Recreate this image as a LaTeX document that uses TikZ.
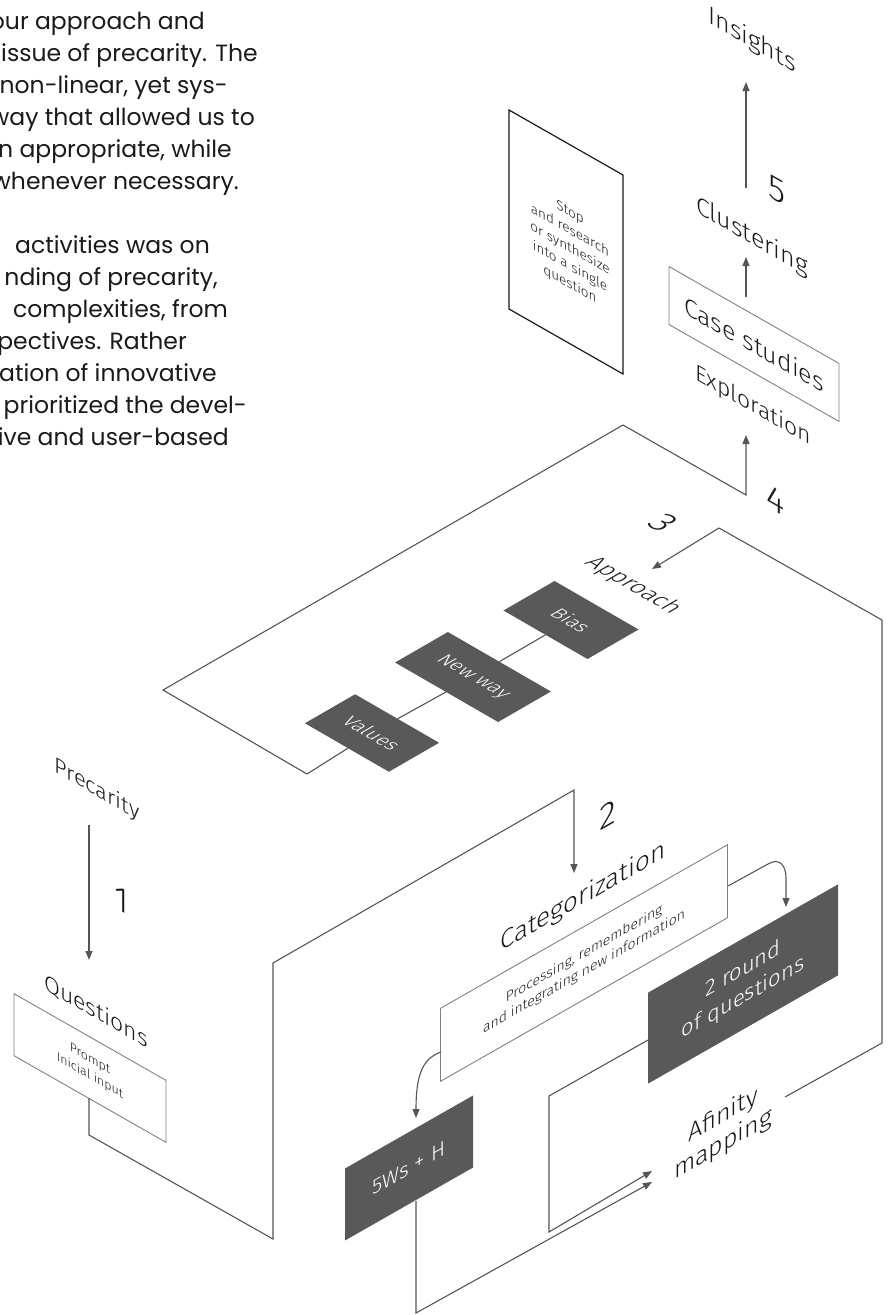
\documentclass[tikz,border=0pt]{standalone}
\usepackage{fontspec}
\setmainfont{Poppins}
\newfontfamily\lightfont{Fira Sans Light}
\usetikzlibrary{positioning,arrows.meta}
\definecolor{ink}{HTML}{1A1A1A}
\definecolor{linegray}{HTML}{555555}
\definecolor{boxgray}{HTML}{808080}
\definecolor{darkfill}{HTML}{595959}
\newcommand*{\lsz}[2]{\lightfont\fontsize{#1}{#2}\selectfont}

\begin{document}
\begin{tikzpicture}[x=1pt,y=-1pt,
  frame/.style={draw=linegray,line width=1.1pt},
  arr/.style={frame,-{Triangle[length=9pt,width=7pt]}},
  sidefall/.style={yslant=-0.57,transform shape},
  siderise/.style={yslant=0.57,transform shape},
  topface/.style={cm={0.866,-0.5,0.866,0.5,(0,0)},transform shape},
  para/.style={anchor=base east,inner sep=0pt,text=ink,font=\fontsize{23.5}{32}\selectfont},
  lbl/.style={inner sep=0pt,text=ink,align=center,font=\lsz{25}{30}},
  num/.style={lbl,font=\lsz{35}{40}},
  wirebox/.style={draw=boxgray,line width=0.9pt,inner sep=0pt,align=center,text=ink},
  darkbox/.style={fill=darkfill,inner sep=0pt,align=center,text=white}]
\useasboundingbox (0,0) rectangle (890,1315);
\clip (0,0) rectangle (890,1315);

% running text, cut off at the left edge
\foreach \txt/\rx/\by [count=\i] in {our approach and/205/29,
    issue of precarity. The/258/61, {non-linear, yet sys-}/228/93,
    way that allowed us to/255/125, {n appropriate, while}/232/157,
    whenever necessary./239/189, activities was on/210/253,
    {nding of precarity,}/218/285, {complexities, from}/228/317,
    pectives. Rather/187/349, ation of innovative/217/381,
    prioritized the devel-/247/413, ive and user-based/229/445}
  \node[para] (para\i) at (\rx,\by) {\txt};

% step 5 column
\node[lbl,sidefall] (insights) at (752,41) {Insights};
\node[num,sidefall] (five) at (777,190) {5};
\node[lbl,sidefall] (clustering) at (752,237) {Clustering};
\node[wirebox,sidefall,minimum width=170pt,minimum height=58pt,
  font=\lsz{25}{30}] (cases) at (754,344) {Case studies};
\node[lbl,sidefall,font=\lsz{23}{28}] (exploration) at (753,406) {Exploration};
\node[num,sidefall] (four) at (776,500) {4};

% the sheet
\node[draw=ink,line width=1.2pt,inner sep=0pt,sidefall,
  minimum width=114pt,minimum height=199pt] (stop) at (566,242) {};
\node[lbl,sidefall,font=\lsz{13.5}{18}] (stoptext) at (570,249)
  {Stop\\and research\\or synthesize\\into a single\\question};

% step 3, lying flat
\node[num,topface,font=\lsz{36}{40}] (three) at (663,523) {3};
\node[lbl,topface,font=\lsz{24}{28}] (approach) at (633,586) {Approach};
\node[darkbox,topface,minimum width=97pt,minimum height=59pt,
  font=\lsz{20}{23}] (bias) at (571,620) {Bias};
\node[darkbox,topface,minimum width=119pt,minimum height=61pt,
  font=\lsz{20}{23}] (newway) at (473,677) {New way};
\node[darkbox,topface,minimum width=97pt,minimum height=58pt,
  font=\lsz{20}{23}] (values) at (372,733) {Values};

% step 1
\node[lbl,sidefall,font=\lsz{22}{26}] (precarity) at (97,790) {Precarity};
\node[num,sidefall] (one) at (122,900) {1};
\node[lbl,sidefall,font=\lsz{23}{28}] (questions) at (96,1011) {Questions};
\node[wirebox,sidefall,minimum width=152pt,minimum height=62pt,
  font=\lsz{12.5}{17}] (prompt) at (90,1068) {Prompt\\Inicial input};

% step 2
\node[num,siderise] (two) at (608,815) {2};
\node[lbl,siderise,font=\lsz{26}{30}] (categ) at (583,897) {Categorization};
\node[wirebox,siderise,minimum width=287pt,minimum height=73pt,
  font=\lsz{14}{18}] (process) at (584,963)
  {Processing, remembering\\and integrating new information};
\node[darkbox,siderise,minimum width=128pt,minimum height=72pt,
  font=\lsz{21}{25}] (fivews) at (409,1168) {5Ws + H};
\node[darkbox,siderise,minimum width=190pt,minimum height=91pt,
  font=\lsz{22}{28}] (round) at (743,984) {2 round\\of questions};
\node[lbl,siderise,font=\lsz{25}{29}] (afinity) at (723,1130) {Afinity\\mapping};

% corners of the frames
\coordinate (p0) at (89,825);   \coordinate (p1) at (89,960);
\coordinate (q0) at (89,1098);  \coordinate (q1) at (89,1135);
\coordinate (q2) at (273,1239); \coordinate (q3) at (273,963);
\coordinate (q4) at (574,790);  \coordinate (q5) at (574,873);
\coordinate (a0) at (307,774);  \coordinate (a1) at (163,690);
\coordinate (a2) at (623,425);  \coordinate (a3) at (746,495);
\coordinate (a4) at (746,435);
\coordinate (r0) at (785,1097); \coordinate (r1) at (882,1043);
\coordinate (r2) at (882,620);  \coordinate (r3) at (719,528);
\coordinate (r4) at (652,569);
\coordinate (d0) at (441,1052); \coordinate (d1) at (416,1118);
\coordinate (e0) at (728,886);  \coordinate (e1) at (768,864);
\coordinate (e2) at (786,907);
\coordinate (f0) at (416,1201); \coordinate (f1) at (416,1313);
\coordinate (f2) at (652,1182);
\coordinate (g0) at (648,1040); \coordinate (g1) at (549,1096);
\coordinate (g2) at (549,1232); \coordinate (g3) at (652,1171);
\coordinate (h0) at (746,297);  \coordinate (h1) at (746,257);
\coordinate (i0) at (746,188);  \coordinate (i1) at (746,82);

% connectors
\draw[arr] (p0) -- (p1);
\draw[arr] (q0) -- (q1) -- (q2) -- (q3) -- (q4) -- (q5);
\draw[frame] (a0) -- (values);
\draw[frame] (values) -- (newway);
\draw[frame] (newway) -- (bias);
\draw[arr] (a0) -- (a1) -- (a2) -- (a3) -- (a4);
\draw[arr] (r0) -- (r1) -- (r2) -- (r3) -- (r4);
\draw[arr] (d0) .. controls (424,1058) and (416,1072) .. (d1);
\draw[arr] (e0) -- (e1) .. controls (780,857) and (786,866) .. (786,878) -- (e2);
\draw[arr] (f0) -- (f1) -- (f2);
\draw[arr] (g0) -- (g1) -- (g2) -- (g3);
\draw[arr] (h0) -- (h1);
\draw[arr] (i0) -- (i1);
\end{tikzpicture}
\end{document}
